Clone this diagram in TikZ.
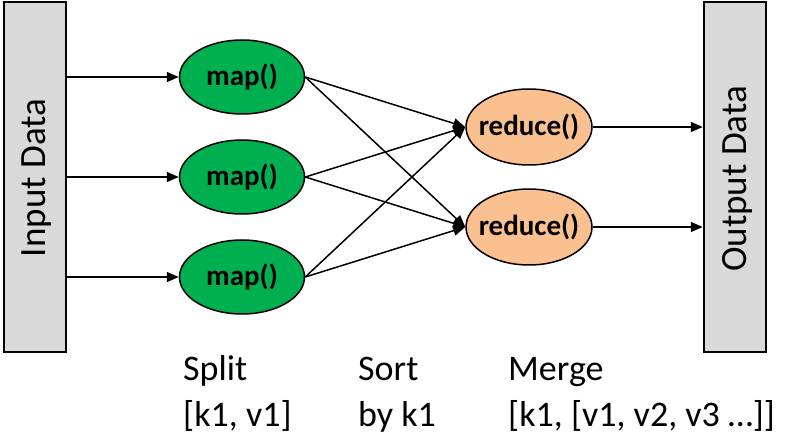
\documentclass[tikz,border=0pt]{standalone}
\usepackage{fontspec}
\setmainfont{Carlito}
\usetikzlibrary{shapes.geometric,arrows.meta}
\definecolor{boxgray}{HTML}{D9D9D9}
\definecolor{mapgreen}{HTML}{00B050}
\definecolor{redorange}{HTML}{FAC090}
\tikzset{
  databox/.style={draw=black,line width=2.5pt,fill=boxgray,minimum width=62pt,minimum height=350pt,inner sep=0pt},
  ovalbase/.style={ellipse,draw=black,line width=1.5pt,inner sep=0pt,label={[font=\fontsize{29}{32}\selectfont\bfseries,inner sep=0pt]center:#1}},
  mapnode/.style={ovalbase=#1,fill=mapgreen,minimum width=125pt,minimum height=74pt},
  rednode/.style={ovalbase=#1,fill=redorange,minimum width=126pt,minimum height=76pt},
  conn/.style={line width=1.5pt,-{Triangle[length=12pt,width=10pt]}},
  caption/.style={anchor=base west,inner sep=0pt,font=\fontsize{36}{42}\selectfont}
}
\begin{document}
\begin{tikzpicture}[x=1pt,y=-1pt]
\useasboundingbox (0,0) rectangle (808,446);
\node[databox] (inp) at (35,177) {};
\node[rotate=90,font=\fontsize{37}{44}\selectfont] (inptxt) at (37,178) {Input Data};
\node[databox] (out) at (735,177) {};
\node[rotate=90,font=\fontsize{37}{44}\selectfont] (outtxt) at (737,179) {Output Data};
\node[mapnode=map()] (m1) at (242,77) {};
\node[mapnode=map()] (m2) at (242,177) {};
\node[mapnode=map()] (m3) at (242,277) {};
\node[rednode=reduce()] (r1) at (529,127) {};
\node[rednode=reduce()] (r2) at (529,227) {};
\foreach \m in {m1,m2,m3} {
  \draw[conn] (inp.east |- \m) -- (\m.west);
  \draw[conn] (\m.east) -- (r1.west);
  \draw[conn] (\m.east) -- (r2.west);
}
\draw[conn] (r1.east) -- (out.west |- r1);
\draw[conn] (r2.east) -- (out.west |- r2);
\node[caption] (c1a) at (183,380) {Split};
\node[caption] (c1b) at (183,426) {[k1, v1]};
\node[caption] (c2a) at (358,380) {Sort};
\node[caption] (c2b) at (358,426) {by k1};
\node[caption] (c3a) at (508,380) {Merge};
\node[caption] (c3b) at (508,426) {[k1, [v1, v2, v3 …]]};
\end{tikzpicture}
\end{document}
